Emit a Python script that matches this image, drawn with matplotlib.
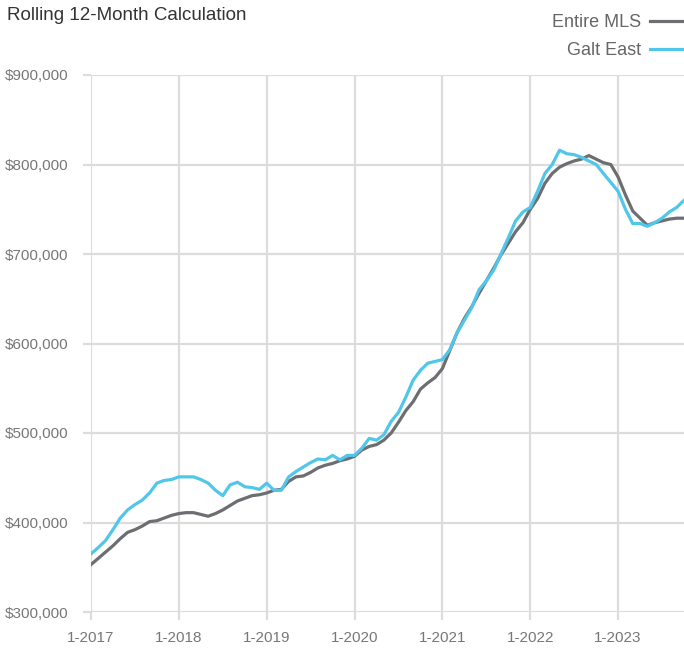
import matplotlib
matplotlib.use("Agg")
import matplotlib.pyplot as plt
from matplotlib.ticker import FuncFormatter

# monthly rolling 12-month averages, Jan 2017 .. Oct 2023 (thousands of $)
entire_mls = [
    353, 360, 367, 374, 382, 389, 392, 396, 401, 402, 405, 408,
    410, 411, 411, 409, 407, 410, 414, 419, 424, 427, 430, 431,
    433, 436, 437, 446, 451, 452, 456, 461, 464, 466, 469, 471,
    474, 481, 485, 487, 492, 500, 512, 525, 535, 549, 556, 562,
    572, 592, 612, 628, 641, 656, 670, 684, 699, 712, 725, 735,
    750, 762, 779, 790, 797, 801, 804, 806, 810, 806, 802, 800,
    786, 766, 748, 740, 732, 735, 737, 739, 740, 740,
]
galt_east = [
    365, 372, 380, 392, 405, 414, 420, 425, 433, 444, 447, 448,
    451, 451, 451, 448, 444, 436, 430, 442, 445, 440, 439, 437,
    444, 436, 436, 451, 457, 462, 467, 471, 470, 475, 470, 475,
    475, 483, 494, 492, 498, 513, 523, 540, 559, 570, 578, 580,
    582, 593, 612, 626, 640, 660, 670, 682, 700, 718, 737, 747,
    752, 770, 790, 800, 816, 812, 811, 808, 804, 800, 790, 780,
    770, 750, 734, 734, 731, 735, 740, 747, 752, 760,
]
year_labels = ["1-2017", "1-2018", "1-2019", "1-2020", "1-2021", "1-2022", "1-2023"]
y_ticks = [300000, 400000, 500000, 600000, 700000, 800000, 900000]

GRID = "#dcdcdc"
plt.rcParams["font.family"] = ["Liberation Sans", "DejaVu Sans"]

fig = plt.figure(figsize=(6.84, 6.49), dpi=100)
ax = fig.add_axes([91 / 684, 1 - 612 / 649, 1 - 91 / 684, (612 - 75) / 649])

months = list(range(len(entire_mls)))
ax.plot(months, [v * 1000 for v in entire_mls], color="#6d6e71", lw=2.3,
        label="Entire MLS", solid_joinstyle="round")
ax.plot(months, [v * 1000 for v in galt_east], color="#4fc6ea", lw=2.3,
        label="Galt East", solid_joinstyle="round")

ax.set_xlim(0, len(months) - 1)
ax.set_ylim(300000, 900000)
ax.set_xticks(range(0, 12 * len(year_labels), 12))
ax.set_xticklabels(year_labels)
ax.set_yticks(y_ticks)
ax.yaxis.set_major_formatter(FuncFormatter(lambda v, p: f"${v:,.0f}"))

for s in ax.spines.values():
    s.set_visible(False)
ax.grid(True, color=GRID, lw=1.6)
ax.set_axisbelow(True)
ax.tick_params(axis="both", colors=GRID, length=6, width=1.6, labelcolor="#777777",
               labelsize=11)
ax.tick_params(axis="y", pad=10)
ax.tick_params(axis="x", pad=8)

fig.text(7 / 684, 1 - 15 / 649, "Rolling 12-Month Calculation", fontsize=13.5,
         color="#333333", va="center", ha="left")

leg = ax.legend(loc="upper right", bbox_to_anchor=(1.03, 0.995), bbox_transform=fig.transFigure,
                frameon=False, markerfirst=False, fontsize=13, labelcolor="#666666",
                handlelength=2.4, handletextpad=0.5, labelspacing=0.6, borderaxespad=0.2)

fig.savefig("out.png", dpi=100)
